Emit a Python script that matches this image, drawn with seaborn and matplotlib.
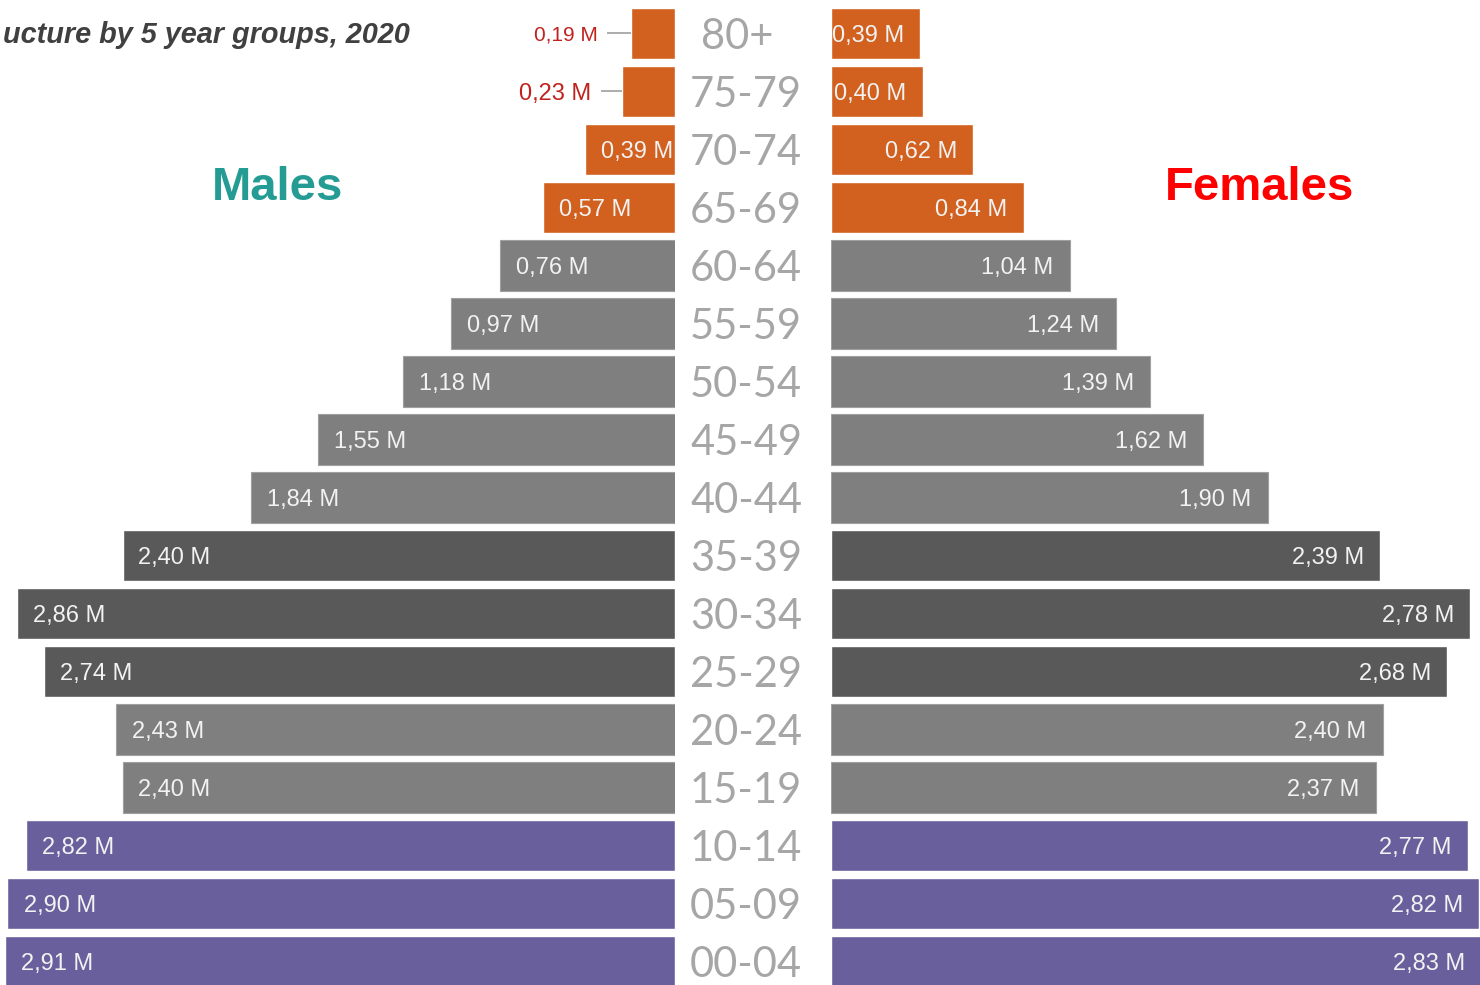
import matplotlib
matplotlib.use("Agg")
import matplotlib.pyplot as plt
import matplotlib.transforms as mtransforms
import seaborn as sns
import pandas as pd

# ---- data ----
age_groups = ["80+", "75-79", "70-74", "65-69", "60-64", "55-59", "50-54", "45-49",
              "40-44", "35-39", "30-34", "25-29", "20-24", "15-19", "10-14", "05-09", "00-04"]
males = [0.19, 0.23, 0.39, 0.57, 0.76, 0.97, 1.18, 1.55, 1.84, 2.40, 2.86, 2.74,
         2.43, 2.40, 2.82, 2.90, 2.91]
females = [0.39, 0.40, 0.62, 0.84, 1.04, 1.24, 1.39, 1.62, 1.90, 2.39, 2.78, 2.68,
           2.40, 2.37, 2.77, 2.82, 2.83]
group_kind = ["old"] * 4 + ["mid"] * 5 + ["work"] * 3 + ["mid"] * 2 + ["young"] * 3
title_text = "ucture by 5 year groups, 2020"
males_title = "Males"
females_title = "Females"

kind_colors = {"old": "#D2601F", "mid": "#7F7F7F", "work": "#595959", "young": "#6A5F9D"}
bar_colors = [kind_colors[k] for k in group_kind]

df = pd.DataFrame({"age": age_groups, "males": males, "females": females, "kind": group_kind})

W, H = 1480, 985
fig = plt.figure(figsize=(W / 100, H / 100), dpi=100)
sns.set_style("white")
plt.rcParams["font.family"] = ["Liberation Sans", "DejaVu Sans"]

px_per_m = 230.0
male_edge = 674.5
female_edge = 830.5

axL = fig.add_axes([0, 0, male_edge / W, 1])
axR = fig.add_axes([female_edge / W, 0, (W - female_edge) / W, 1])

pitch = 58.0
first_center = 33.3
ylim = ((H - first_center) / pitch, -first_center / pitch)

for ax, col in [(axL, "males"), (axR, "females")]:
    sns.barplot(data=df, y="age", x=col, hue="age", palette=bar_colors, orient="h",
                width=0.87, legend=False, ax=ax, saturation=1, order=age_groups,
                hue_order=age_groups)
    ax.set_ylim(*ylim)
    ax.set_axis_off()

axL.set_xlim(male_edge / px_per_m, 0)
axR.set_xlim(0, (W - female_edge) / px_per_m)

# light edges on the light-gray bars
for ax in (axL, axR):
    for patch, kind in zip(ax.patches, group_kind):
        if kind == "mid":
            patch.set_edgecolor("#A0A0A0")
            patch.set_linewidth(0.8)

def fmt(v):
    return f"{v:.2f}".replace(".", ",") + " M"

pad = 16 / px_per_m
for i, v in enumerate(males):
    if v < 0.3:
        # outside label with leader line
        size = 15 if i == 0 else 17
        line_len = (631 - 607) / px_per_m if i == 0 else (620 - 599) / px_per_m
        axL.plot([v, v + line_len], [i, i], color="#A6A6A6", lw=1.3, solid_capstyle="butt")
        axL.text(v + line_len + 9 / px_per_m, i, fmt(v), ha="right", va="center_baseline",
                 color="#C0231F", fontsize=size)
    else:
        axL.text(v - pad, i, fmt(v), ha="left", va="center_baseline", color="#F2F2F2",
                 fontsize=17)

for i, v in enumerate(females):
    axR.text(v - pad, i, fmt(v), ha="right", va="center_baseline", color="#F2F2F2",
             fontsize=17)

# age labels in the middle
trans = mtransforms.blended_transform_factory(fig.transFigure, axL.transData)
for i, a in enumerate(age_groups):
    xc = 746 if a != "80+" else 737
    fig.text(xc / W, i, a, transform=trans, ha="center", va="center_baseline",
             fontsize=30, color="#A6A6A6", family=["Lato", "DejaVu Sans"])

fig.text(278 / W, 1 - 188 / H, males_title, ha="center", va="center", fontsize=34,
         fontweight="bold", color="#259C93")
fig.text(1260 / W, 1 - 188 / H, females_title, ha="center", va="center", fontsize=34,
         fontweight="bold", color="#FF0000")
fig.text(410 / W, 1 - 35 / H, title_text, ha="right", va="center", fontsize=20.8,
         fontweight="bold", fontstyle="italic", color="#404040")

fig.savefig("out.png", dpi=100)
